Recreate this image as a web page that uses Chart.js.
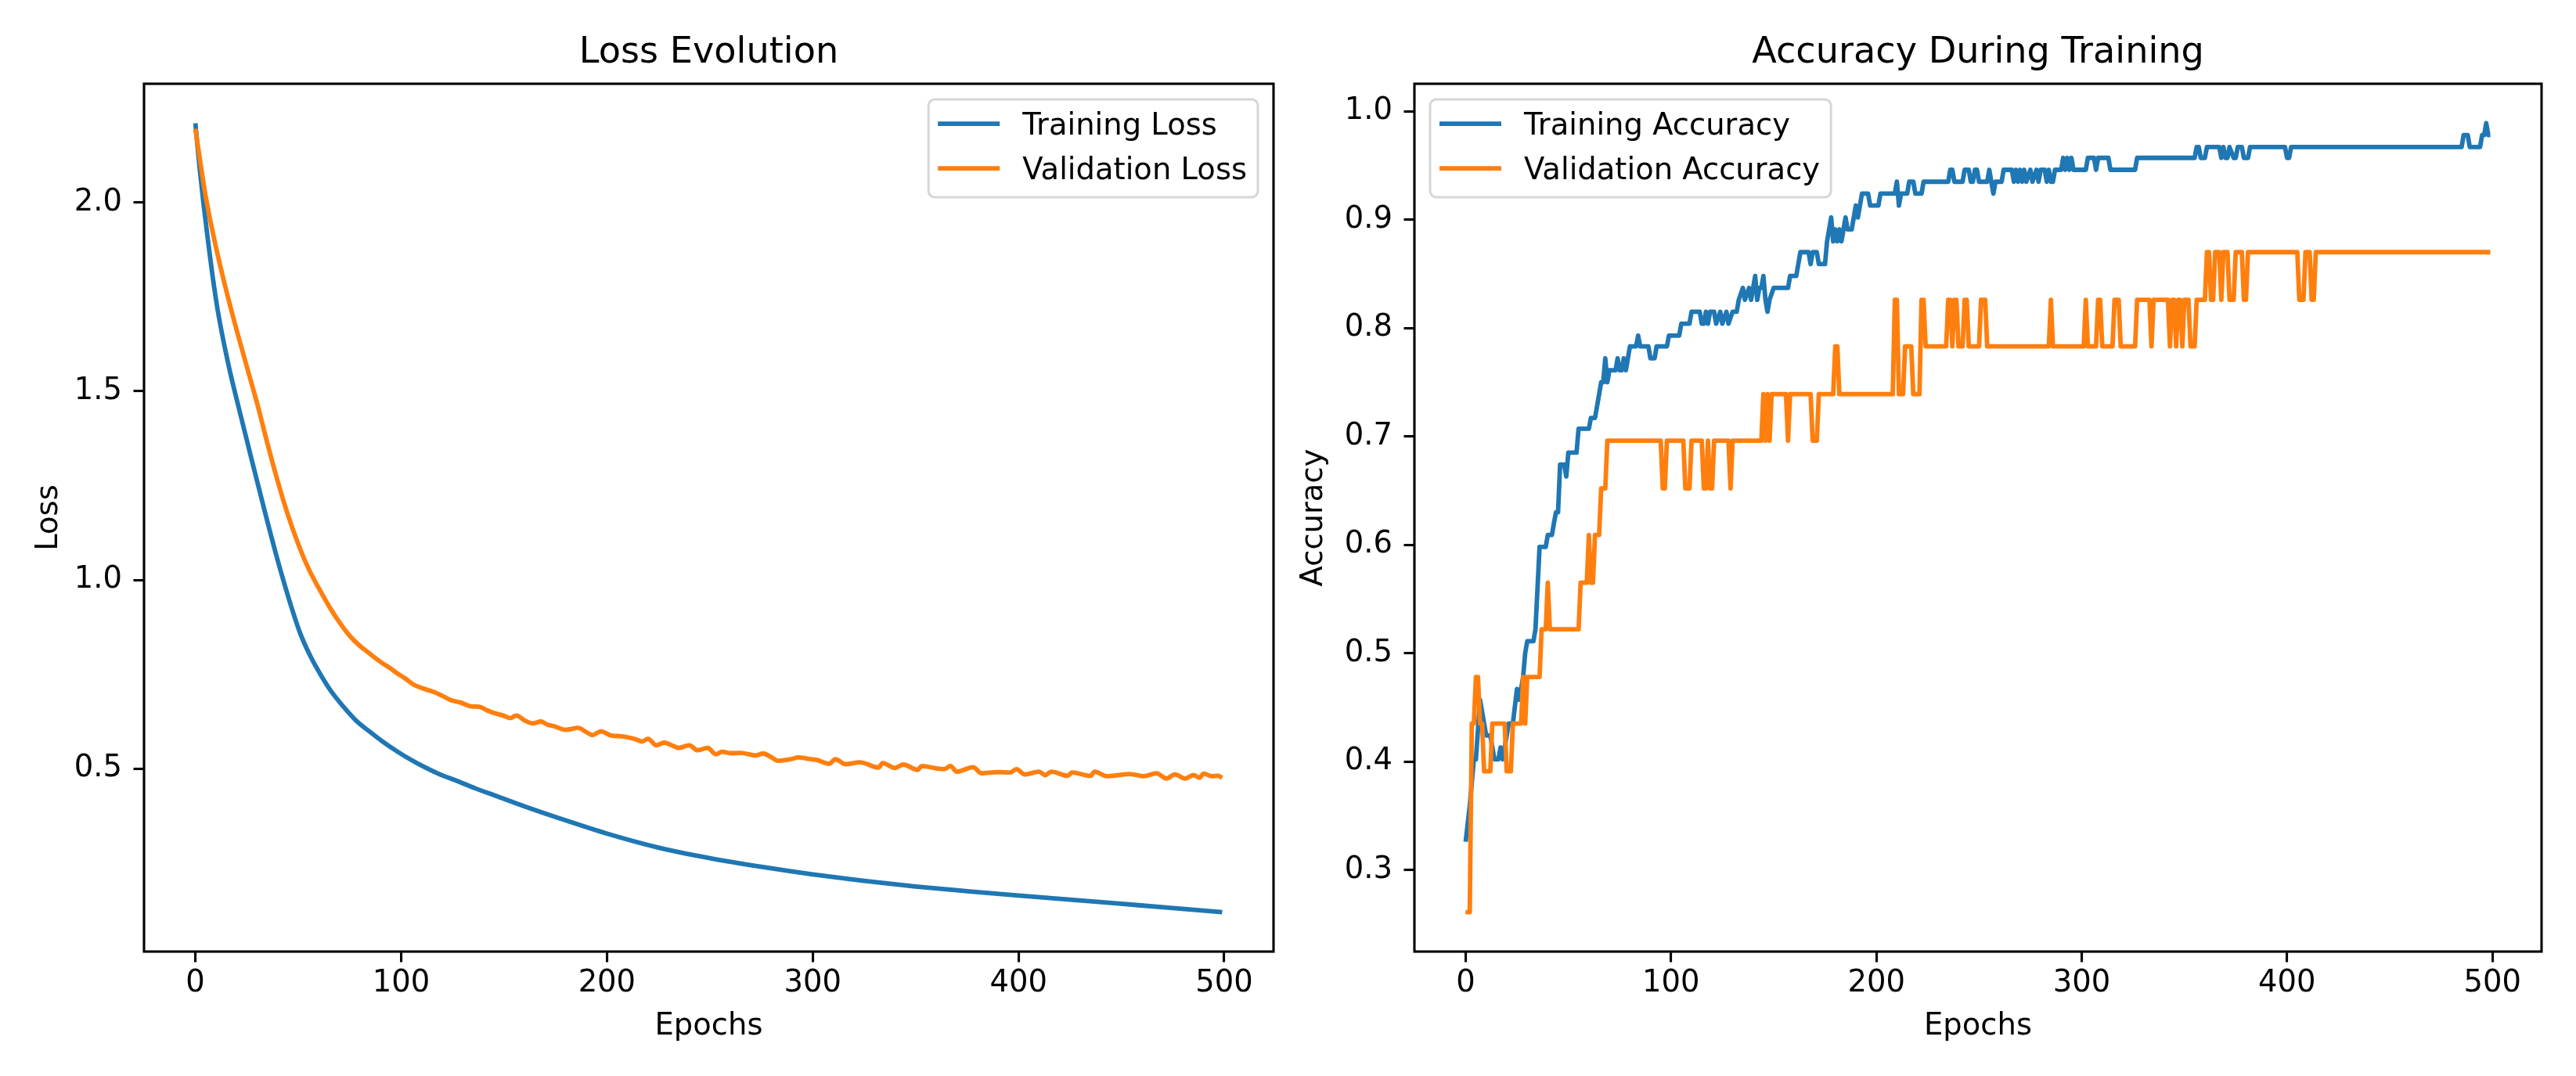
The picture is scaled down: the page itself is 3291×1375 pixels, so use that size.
<!DOCTYPE html>
<html>
<head>
<meta charset="utf-8">
<script src="https://cdn.jsdelivr.net/npm/chart.js@4.4.1/dist/chart.umd.min.js"></script>
<style>
html,body{margin:0;padding:0;background:#fff;width:3291px;height:1375px;overflow:hidden}
canvas{position:absolute;top:0}
#lossChart{left:0}
#accChart{left:1640px}
</style>
</head>
<body>
<canvas id="lossChart" width="1640" height="1375"></canvas>
<canvas id="accChart" width="1651" height="1375"></canvas>
<script>
// ---------------- data ----------------
const xTickValues = [0, 100, 200, 300, 400, 500];
const lossTickValues = [0.5, 1.0, 1.5, 2.0];
const accTickValues = [0.3, 0.4, 0.5, 0.6, 0.7, 0.8, 0.9, 1.0];

const trainLossEpochs = [0,2,4,6,8,11,16,21,28,34,40,46,51,56,61,66,72,78,85,91,98,104,110,118,127,136,146,160,175,200,225,250,275,300,325,350,375,400,425,450,475,499];
const trainLossValues = [2.21,2.095,1.995,1.905,1.82,1.71,1.572,1.458,1.305,1.176,1.052,0.94,0.858,0.797,0.748,0.705,0.664,0.628,0.597,0.572,0.546,0.526,0.508,0.487,0.468,0.448,0.428,0.400,0.372,0.328,0.291,0.263,0.240,0.220,0.203,0.188,0.1755,0.164,0.153,0.142,0.131,0.120];

const valLossEpochs = [0,5,10,15,20,25,30,35,40,45,50,55,60,65,70,75,80,84,87,91,95,98,102,106,111,116,120,124,129,134,138,142,145,150,153,156,160,164,168,171,174,180,186,190,193,197,202,207,211,214,217,220,224,228,232,235,240,244,249,253,256,260,265,270,272,276,280,283,287,290,293,297,302,308,311,316,323,332,334,340,344,351,353,360,364,367,370,378,382,390,396,399,403,410,413,416,424,426,435,437,443,450,454,461,467,472,476,481,485,488,490,494,497,499];
const valLossValues = [2.195,2.017,1.882,1.767,1.663,1.565,1.468,1.362,1.262,1.172,1.095,1.030,0.978,0.930,0.888,0.852,0.825,0.808,0.795,0.779,0.765,0.753,0.739,0.723,0.712,0.703,0.693,0.682,0.675,0.665,0.664,0.654,0.648,0.640,0.634,0.641,0.628,0.620,0.625,0.617,0.613,0.603,0.608,0.597,0.589,0.599,0.588,0.586,0.582,0.578,0.572,0.579,0.562,0.569,0.561,0.555,0.562,0.549,0.555,0.538,0.545,0.541,0.542,0.537,0.535,0.540,0.530,0.521,0.523,0.526,0.530,0.527,0.523,0.513,0.525,0.512,0.517,0.503,0.515,0.502,0.511,0.497,0.507,0.501,0.499,0.507,0.492,0.504,0.488,0.491,0.490,0.499,0.485,0.492,0.483,0.492,0.481,0.490,0.481,0.492,0.480,0.484,0.486,0.480,0.488,0.474,0.485,0.474,0.483,0.476,0.487,0.480,0.481,0.476];

const trainAccEpochs = [0,2,4,5,7,9,10,12,13,14,16,17,18,19,21,23,25,26,27,28,29,30,33,34,36,39,40,42,43,44,45,46,48,49,50,54,55,60,61,63,64,65,66,67,68,69,70,73,74,75,76,77,78,79,80,83,84,85,89,90,92,93,98,99,104,105,109,110,114,115,116,117,118,119,121,122,124,125,127,128,130,132,133,135,136,138,139,140,141,142,143,144,145,146,147,148,150,157,158,161,162,163,167,168,169,171,172,175,176,178,179,180,181,182,183,184,185,186,188,189,190,191,192,193,196,197,201,202,209,210,211,212,215,216,218,219,222,223,235,236,237,238,242,243,245,246,247,248,249,250,254,255,256,257,258,261,262,266,267,268,269,270,271,272,273,275,276,278,279,280,282,283,284,285,286,287,290,291,292,293,294,295,296,302,303,306,307,308,313,314,326,327,355,356,357,358,360,361,367,368,369,370,371,372,374,375,376,378,379,381,382,399,400,401,402,485,486,488,489,494,495,496,497,498,499];
const trainAccValues = [0.326,0.359,0.402,0.402,0.457,0.435,0.424,0.424,0.413,0.402,0.402,0.413,0.402,0.413,0.435,0.435,0.467,0.457,0.467,0.478,0.500,0.511,0.511,0.522,0.598,0.598,0.609,0.609,0.620,0.630,0.630,0.674,0.674,0.663,0.685,0.685,0.707,0.707,0.717,0.717,0.728,0.739,0.750,0.750,0.772,0.750,0.761,0.761,0.772,0.761,0.761,0.772,0.761,0.772,0.783,0.783,0.793,0.783,0.783,0.772,0.772,0.783,0.783,0.793,0.793,0.804,0.804,0.815,0.815,0.804,0.804,0.815,0.804,0.815,0.815,0.804,0.815,0.804,0.815,0.804,0.815,0.815,0.826,0.837,0.826,0.837,0.826,0.837,0.848,0.826,0.837,0.837,0.848,0.826,0.815,0.826,0.837,0.837,0.848,0.848,0.859,0.870,0.870,0.859,0.870,0.870,0.859,0.859,0.880,0.902,0.880,0.891,0.880,0.891,0.880,0.891,0.902,0.891,0.891,0.902,0.913,0.902,0.913,0.924,0.924,0.913,0.913,0.924,0.924,0.935,0.913,0.924,0.924,0.935,0.935,0.924,0.924,0.935,0.935,0.946,0.946,0.935,0.935,0.946,0.946,0.935,0.935,0.946,0.946,0.935,0.935,0.946,0.935,0.924,0.935,0.935,0.946,0.946,0.935,0.946,0.935,0.946,0.935,0.946,0.935,0.946,0.935,0.946,0.935,0.946,0.946,0.935,0.946,0.935,0.935,0.946,0.946,0.957,0.946,0.957,0.946,0.957,0.946,0.946,0.957,0.957,0.946,0.957,0.957,0.946,0.946,0.957,0.957,0.967,0.967,0.957,0.957,0.967,0.967,0.957,0.967,0.957,0.957,0.967,0.957,0.957,0.967,0.967,0.957,0.957,0.967,0.967,0.957,0.957,0.967,0.967,0.978,0.978,0.967,0.967,0.978,0.978,0.989,0.978,0.978];

const valAccEpochs = [0,2,3,4,5,6,7,8,9,12,13,19,20,22,23,27,28,29,30,36,37,39,40,41,55,56,59,60,61,62,63,65,66,68,69,95,96,97,98,106,107,109,110,115,116,117,118,119,120,121,128,129,130,144,145,146,147,148,149,156,157,158,168,169,171,172,179,180,181,182,208,209,210,211,213,214,217,218,221,222,223,224,234,235,236,237,238,239,240,242,243,244,245,250,251,253,254,284,285,286,301,302,303,307,308,309,310,315,316,318,319,326,327,333,334,335,342,343,344,345,346,347,348,349,350,352,353,355,356,360,361,362,363,364,365,367,368,369,371,372,374,375,378,379,380,381,405,406,408,409,411,412,413,414,499];
const valAccValues = [0.261,0.261,0.435,0.435,0.478,0.478,0.435,0.435,0.391,0.391,0.435,0.435,0.391,0.391,0.435,0.435,0.478,0.435,0.478,0.478,0.522,0.522,0.565,0.522,0.522,0.565,0.565,0.609,0.565,0.565,0.609,0.609,0.652,0.652,0.696,0.696,0.652,0.652,0.696,0.696,0.652,0.652,0.696,0.696,0.652,0.652,0.696,0.652,0.652,0.696,0.696,0.652,0.696,0.696,0.739,0.696,0.739,0.696,0.739,0.739,0.696,0.739,0.739,0.696,0.696,0.739,0.739,0.783,0.783,0.739,0.739,0.826,0.826,0.739,0.739,0.783,0.783,0.739,0.739,0.826,0.826,0.783,0.783,0.826,0.826,0.783,0.826,0.826,0.783,0.783,0.826,0.826,0.783,0.783,0.826,0.826,0.783,0.783,0.826,0.783,0.783,0.826,0.783,0.783,0.826,0.826,0.783,0.783,0.826,0.826,0.783,0.783,0.826,0.826,0.783,0.826,0.826,0.783,0.826,0.826,0.783,0.826,0.826,0.783,0.826,0.826,0.783,0.783,0.826,0.826,0.870,0.870,0.826,0.826,0.870,0.870,0.826,0.870,0.870,0.826,0.826,0.870,0.870,0.826,0.826,0.870,0.870,0.826,0.826,0.870,0.870,0.826,0.826,0.870,0.870];

// ---------------- presentation ----------------
const FONT = '"DejaVu Sans", "Liberation Sans", sans-serif';
const FS = 38.5;
const BLUE = '#1f77b4', ORANGE = '#ff7f0e';
const LW = 5.8, SPINE = 3.1, TICKLEN = 13.5;
Chart.defaults.font.family = FONT;
Chart.defaults.color = '#000';

function pts(xs, ys) { return xs.map((x, i) => ({x: x, y: ys[i]})); }
function padRange(arrs) {
  let lo = Infinity, hi = -Infinity;
  arrs.forEach(a => a.forEach(v => { if (v < lo) lo = v; if (v > hi) hi = v; }));
  const m = (hi - lo) * 0.05;
  return [lo - m, hi + m];
}
const xEpochRange = padRange([trainLossEpochs, valLossEpochs]);
const lossRange = padRange([trainLossValues, valLossValues]);
const accRange = padRange([trainAccValues, valAccValues]);

const framePlugin = {
  id: 'frameLegend',
  afterDraw(chart, args, opts) {
    const ctx = chart.ctx, a = chart.chartArea;
    ctx.save();
    ctx.strokeStyle = '#000';
    ctx.lineWidth = SPINE;
    ctx.lineJoin = 'miter';
    ctx.strokeRect(a.left, a.top, a.right - a.left, a.bottom - a.top);
    // legend
    ctx.font = FS + 'px ' + FONT;
    const ds = chart.data.datasets;
    const tw = Math.max.apply(null, ds.map(d => ctx.measureText(d.label).width));
    const w = 120 + tw + 14, h = 125;
    const x0 = opts.side === 'right' ? a.right - 20 - w : a.left + 20;
    const y0 = a.top + 20;
    const r = 8;
    ctx.beginPath();
    ctx.moveTo(x0 + r, y0);
    ctx.lineTo(x0 + w - r, y0);
    ctx.arcTo(x0 + w, y0, x0 + w, y0 + r, r);
    ctx.lineTo(x0 + w, y0 + h - r);
    ctx.arcTo(x0 + w, y0 + h, x0 + w - r, y0 + h, r);
    ctx.lineTo(x0 + r, y0 + h);
    ctx.arcTo(x0, y0 + h, x0, y0 + h - r, r);
    ctx.lineTo(x0, y0 + r);
    ctx.arcTo(x0, y0, x0 + r, y0, r);
    ctx.closePath();
    ctx.fillStyle = 'rgba(255,255,255,0.8)';
    ctx.fill();
    ctx.strokeStyle = 'rgba(204,204,204,0.8)';
    ctx.lineWidth = 3;
    ctx.stroke();
    ds.forEach((d, i) => {
      const y = y0 + 31 + i * 57;
      ctx.beginPath();
      ctx.strokeStyle = d.borderColor;
      ctx.lineWidth = LW;
      ctx.lineCap = 'butt';
      ctx.moveTo(x0 + 12, y);
      ctx.lineTo(x0 + 91, y);
      ctx.stroke();
      ctx.fillStyle = '#000';
      ctx.textAlign = 'left';
      ctx.textBaseline = 'alphabetic';
      ctx.fillText(d.label, x0 + 120, y + 14);
    });
    ctx.restore();
  }
};

function font(sz) { return {family: FONT, size: sz, weight: 'normal'}; }

function xScale() {
  return {
    type: 'linear', bounds: 'data', min: xEpochRange[0], max: xEpochRange[1],
    afterBuildTicks: s => { s.ticks = xTickValues.map(v => ({value: v})); },
    afterFit: s => { s.height = 159; },
    grid: {display: true, drawOnChartArea: false, drawTicks: true, tickLength: TICKLEN, tickWidth: SPINE, tickColor: '#000', color: '#000', lineWidth: SPINE},
    border: {display: false},
    ticks: {font: font(FS), color: '#000', padding: 4.4, maxRotation: 0, minRotation: 0, autoSkip: false, callback: v => String(v)},
    title: {display: true, text: 'Epochs', font: font(FS), color: '#000', padding: {top: 0, bottom: 40.2}}
  };
}
function yScale(range, ticks, label, width, titlePad) {
  return {
    type: 'linear', bounds: 'data', min: range[0], max: range[1],
    afterBuildTicks: s => { s.ticks = ticks.map(v => ({value: v})); },
    afterFit: s => { s.width = width; },
    grid: {display: true, drawOnChartArea: false, drawTicks: true, tickLength: TICKLEN, tickWidth: SPINE, tickColor: '#000', color: '#000', lineWidth: SPINE},
    border: {display: false},
    ticks: {font: font(FS), color: '#000', padding: 14.5, autoSkip: false, callback: v => Number(v).toFixed(1)},
    title: {display: true, text: label, font: font(FS), color: '#000', padding: {top: titlePad, bottom: 0}}
  };
}
function baseOptions(title, rightPad, yCfg, side) {
  return {
    responsive: false, animation: false, devicePixelRatio: 1,
    layout: {padding: {left: 0, right: rightPad, top: 0, bottom: 0}},
    plugins: {
      legend: {display: false},
      tooltip: {enabled: false},
      title: {display: true, text: title, font: font(46.2), color: '#000', fullSize: false, padding: {top: 40.2, bottom: 11.4}},
      frameLegend: {side: side}
    },
    scales: {x: xScale(), y: yCfg}
  };
}

new Chart(document.getElementById('lossChart'), {
  type: 'line',
  data: {datasets: [
    {label: 'Training Loss', data: pts(trainLossEpochs, trainLossValues), borderColor: BLUE, borderWidth: LW, pointRadius: 0, cubicInterpolationMode: 'monotone', borderJoinStyle: 'round', fill: false, order: 1},
    {label: 'Validation Loss', data: pts(valLossEpochs, valLossValues), borderColor: ORANGE, borderWidth: LW, pointRadius: 0, cubicInterpolationMode: 'monotone', borderJoinStyle: 'round', fill: false, order: 0}
  ]},
  options: baseOptions('Loss Evolution', 13, yScale(lossRange, lossTickValues, 'Loss', 184, 39.6), 'right'),
  plugins: [framePlugin]
});

new Chart(document.getElementById('accChart'), {
  type: 'line',
  data: {datasets: [
    {label: 'Training Accuracy', data: pts(trainAccEpochs, trainAccValues), borderColor: BLUE, borderWidth: LW, pointRadius: 0, tension: 0, borderJoinStyle: 'round', fill: false, order: 1},
    {label: 'Validation Accuracy', data: pts(valAccEpochs, valAccValues), borderColor: ORANGE, borderWidth: LW, pointRadius: 0, tension: 0, borderJoinStyle: 'round', fill: false, order: 0}
  ]},
  options: baseOptions('Accuracy During Training', 44, yScale(accRange, accTickValues, 'Accuracy', 167, 15.9), 'left'),
  plugins: [framePlugin]
});
</script>
</body>
</html>
